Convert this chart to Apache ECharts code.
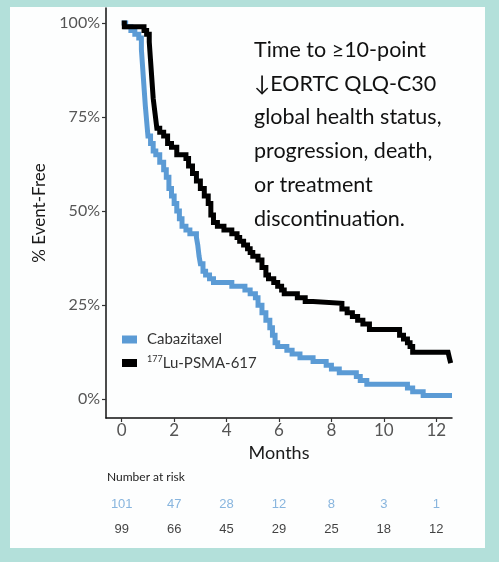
<!DOCTYPE html>
<html>
<head>
<meta charset="utf-8">
<script src="https://cdn.jsdelivr.net/npm/echarts@6/dist/echarts.min.js"></script>
<style>
html,body{margin:0;padding:0;width:499px;height:562px;background:#b3e0da;overflow:hidden;}
#panel{position:absolute;left:10px;top:7px;width:475px;height:541px;background:#fdfefe;}
#chart{position:absolute;left:0;top:0;width:499px;height:562px;}
</style>
</head>
<body>
<div id="panel"></div>
<div id="chart"></div>
<script>
// Kaplan-Meier step data (months, % event-free)
const cabaTime = [0,0.15,0.35,0.5,0.65,0.75,0.8,0.85,0.9,0.95,1.0,1.1,1.2,1.3,1.45,1.6,1.7,1.8,1.9,2.0,2.1,2.2,2.3,2.45,2.6,2.85,2.9,2.95,3.0,3.1,3.2,3.35,3.5,4.2,4.7,4.9,5.1,5.2,5.35,5.5,5.65,5.75,5.85,5.95,6.3,6.5,6.8,7.3,7.8,8.0,8.3,8.95,9.1,9.35,10.9,11.1,11.5,12.6];
const cabaSurv = [100,99,98,97,96,93,88,83,78,74,70,68,66,65,63,61,59,56,54,52,50,48,46,45,44,43,41,38,36,34,33,32,31,30,29,28,27,25,23,21,19,17,15,14,13,12,11,10,9,8,7,6,5,4,3,2,1,1];
const luTime = [0,0.1,0.85,0.95,1.05,1.1,1.15,1.2,1.27,1.34,1.45,1.6,1.75,1.9,2.1,2.45,2.55,2.7,2.85,3.0,3.15,3.3,3.4,3.5,3.65,3.9,4.2,4.4,4.5,4.65,4.8,4.9,5.0,5.2,5.35,5.5,5.6,5.8,5.95,6.1,6.2,6.7,7.0,7.3,8.4,8.6,8.8,9.0,9.2,9.45,10.6,10.75,10.9,11.0,11.1,12.45,12.5,12.55];
const luSurv = [100,99,98,97,95,90,85,80,76,72,71,70,68,67,65,64,62,60,58,56,54,52,49,47,46,45,44,43,42,41,40,39,38,37,35,33,32,31,30,29,28,27,26,25.5,24,23,22,21,20,18.5,17,16,15,14,12.5,12.5,11,9.6];
const xTicks = [0,2,4,6,8,10,12];
const yTicks = [0,25,50,75,100];
const riskMonths = [0,2,4,6,8,10,12];
const cabaRisk = [101,47,28,12,8,3,1];
const luRisk = [99,66,45,29,25,18,12];
const seriesNames = ['Cabazitaxel','177Lu-PSMA-617'];
const noteLines = ['Time to \u226510-point','\u2193EORTC QLQ-C30','global health status,','progression, death,','or treatment','discontinuation.'];

const BLUE = '#5b9bd5';
const BLUE_TXT = '#6aa3d6';
const FONT = 'Lato, "Open Sans", sans-serif';

const zip = (a, b) => a.map((v, i) => [v, b[i]]);

const chart = echarts.init(document.getElementById('chart'), null, {renderer: 'canvas'});
chart.setOption({
  backgroundColor: 'transparent',
  animation: false,
  grid: [
    {left: 106, right: 47, top: 8, bottom: 144},
    {left: 106, right: 47, top: 492, height: 50}
  ],
  xAxis: [
    {
      gridIndex: 0, type: 'value', min: -0.6, max: 12.6,
      name: 'Months', nameLocation: 'middle', nameGap: 24,
      nameTextStyle: {fontFamily: FONT, fontSize: 18, color: '#1a1a1a'},
      axisLine: {show: true, onZero: false, lineStyle: {color: '#111', width: 1.5}},
      axisTick: {show: true, length: 4, lineStyle: {color: '#333', width: 1.2}, customValues: xTicks},
      axisLabel: {fontFamily: FONT, fontSize: 17, color: '#555', margin: 4, customValues: xTicks},
      splitLine: {show: false}
    },
    {
      gridIndex: 1, type: 'value', min: -0.6, max: 12.6, show: false
    }
  ],
  yAxis: [
    {
      gridIndex: 0, type: 'value', min: -5, max: 104,
      name: '% Event-Free', nameLocation: 'middle', nameGap: 52,
      nameTextStyle: {fontFamily: FONT, fontSize: 17, color: '#1a1a1a'},
      axisLine: {show: true, onZero: false, lineStyle: {color: '#111', width: 1.5}},
      axisTick: {show: true, length: 4, lineStyle: {color: '#333', width: 1.2}, customValues: yTicks},
      axisLabel: {fontFamily: FONT, fontSize: 16, color: '#555', margin: 6, customValues: yTicks, formatter: v => v + '%'},
      splitLine: {show: false}
    },
    {
      gridIndex: 1, type: 'category', data: ['lu', 'caba'], show: false
    }
  ],
  legend: {
    orient: 'vertical', left: 117, top: 327,
    itemWidth: 15, itemHeight: 8, itemGap: 8,
    icon: 'rect',
    data: seriesNames,
    formatter: n => n === '177Lu-PSMA-617' ? '{sup|177}{b|Lu-PSMA-617}' : '{b|' + n + '}',
    textStyle: {
      padding: [0, 0, 0, 5],
      rich: {
        b: {fontFamily: FONT, fontSize: 15, color: '#333', height: 16},
        sup: {fontFamily: FONT, fontSize: 9, color: '#333', verticalAlign: 'top', padding: [0, 0, 6, 0]}
      }
    }
  },
  graphic: [
    {
      type: 'text', left: 254, top: 33,
      style: {
        text: noteLines.join('\n'), fontFamily: FONT, fontSize: 21.5,
        lineHeight: 33.8, fill: '#111'
      }
    },
    {
      type: 'text', left: 107, top: 471,
      style: {text: 'Number at risk', fontFamily: FONT, fontSize: 12, fill: '#222'}
    }
  ],
  series: [
    {
      name: seriesNames[0], type: 'line', step: 'end', xAxisIndex: 0, yAxisIndex: 0,
      data: zip(cabaTime, cabaSurv), showSymbol: false, symbol: 'none',
      lineStyle: {color: BLUE, width: 5, join: 'miter'}, itemStyle: {color: BLUE}, z: 2
    },
    {
      name: seriesNames[1], type: 'line', step: 'end', xAxisIndex: 0, yAxisIndex: 0,
      data: zip(luTime, luSurv), showSymbol: false, symbol: 'none',
      lineStyle: {color: '#000', width: 5, join: 'miter'}, itemStyle: {color: '#000'}, z: 3
    },
    {
      type: 'scatter', xAxisIndex: 1, yAxisIndex: 1, symbolSize: 0, silent: true,
      data: riskMonths.map((m, i) => [m, 'caba', cabaRisk[i]]),
      label: {show: true, position: 'inside', formatter: p => String(p.value[2]),
        fontFamily: '"Liberation Sans", Arial, sans-serif', fontSize: 13, color: BLUE_TXT}
    },
    {
      type: 'scatter', xAxisIndex: 1, yAxisIndex: 1, symbolSize: 0, silent: true,
      data: riskMonths.map((m, i) => [m, 'lu', luRisk[i]]),
      label: {show: true, position: 'inside', formatter: p => String(p.value[2]),
        fontFamily: '"Liberation Sans", Arial, sans-serif', fontSize: 13, color: '#111'}
    }
  ]
});
</script>
</body>
</html>
